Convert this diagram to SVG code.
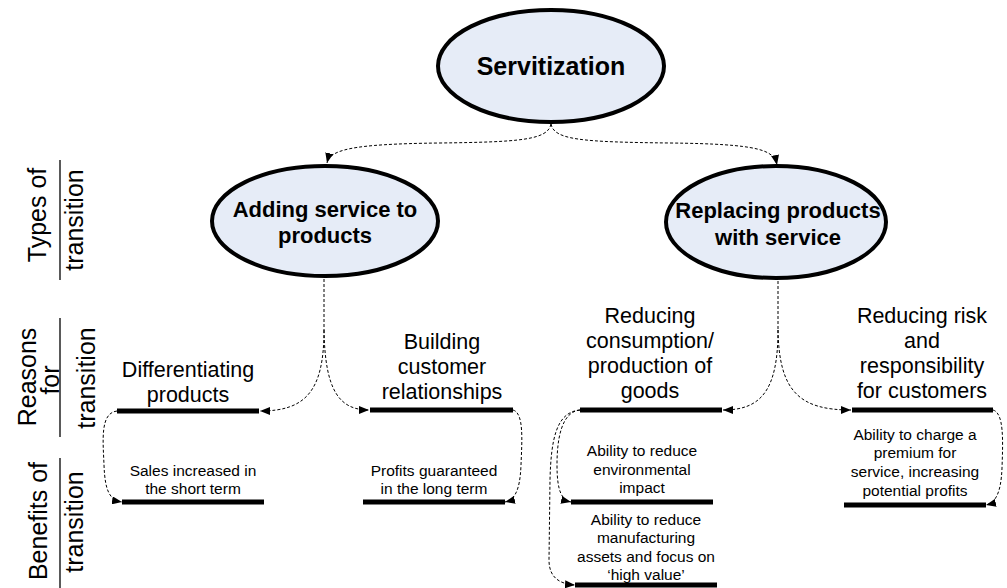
<svg xmlns="http://www.w3.org/2000/svg" width="1007" height="588" viewBox="0 0 1007 588">
<defs>
<marker id="ah" viewBox="0 0 10 8" refX="10" refY="4" markerWidth="10" markerHeight="8" markerUnits="userSpaceOnUse" orient="auto">
<path d="M0,0 L10,4 L0,8 Z" fill="#000"/>
</marker>
</defs>
<style>
.ell{fill:#E6ECF7;stroke:#000;stroke-width:4}
.bold{font-family:"Liberation Sans",Arial,sans-serif;font-weight:bold;fill:#000;text-anchor:middle}
.big{font-family:"Liberation Sans",Arial,sans-serif;font-size:21.5px;fill:#000;text-anchor:middle}
.small{font-family:"Liberation Sans",Arial,sans-serif;font-size:15.5px;fill:#000;text-anchor:middle}
.lab{font-family:"Liberation Sans",Arial,sans-serif;font-size:25px;fill:#000;text-anchor:middle}
.bar{stroke:#000;stroke-width:5}
.rule{stroke:#000;stroke-width:1.3}
.con{fill:none;stroke:#000;stroke-width:1;stroke-dasharray:3,2;marker-end:url(#ah)}
.conn{fill:none;stroke:#000;stroke-width:1;stroke-dasharray:3,2}
</style>
<rect width="1007" height="588" fill="#fff"/>

<g id="axis-labels">
<line class="rule" x1="60" y1="160" x2="60" y2="280"/>
<text class="lab" transform="translate(46,215) rotate(-90)">Types of</text>
<text class="lab" transform="translate(83,220) rotate(-90)">transition</text>
<line class="rule" x1="60" y1="318" x2="60" y2="437"/>
<text class="lab" transform="translate(36,377) rotate(-90)">Reasons</text>
<text class="lab" transform="translate(59,380) rotate(-90)">for</text>
<text class="lab" transform="translate(95,378) rotate(-90)">transition</text>
<line class="rule" x1="60" y1="458" x2="60" y2="588"/>
<text class="lab" transform="translate(47,521) rotate(-90)">Benefits of</text>
<text class="lab" transform="translate(83,522) rotate(-90)">transition</text>
</g>

<g id="connectors">
<path class="con" d="M551,124 C548,140 520,142 440,143 C350,144 330,150 327,163"/>
<path class="con" d="M551,124 C554,140 582,142 670,143 C760,144 774,150 777,165"/>
<path class="conn" d="M324,279 L324,330"/>
<path class="con" d="M324,330 C324,392 305,411 260,411"/>
<path class="con" d="M324,330 C325,392 340,410 369,410"/>
<path class="conn" d="M778,281 L778,330"/>
<path class="con" d="M778,330 C778,392 760,410 723,410"/>
<path class="con" d="M778,330 C779,392 800,410 851,410"/>
<path class="con" d="M117,411 C100,413 103,440 104,465 C105,492 110,500 122,502"/>
<path class="con" d="M513,410 C524,413 522,440 521,465 C520,492 514,500 505,502"/>
<path class="con" d="M580,410 C561,412 557,440 557,465 C557,492 562,500 571,502"/>
<path class="con" d="M580,410 C556,412 551,440 550,480 L549,560 C549,578 560,584 575,585"/>
<path class="con" d="M993,410 C1004,413 1003,440 1002,468 C1001,494 995,503 986,505"/>
</g>

<g id="servitization">
<ellipse class="ell" cx="551" cy="66" rx="113" ry="56"/>
<text class="bold" x="551" y="75" font-size="25px">Servitization</text>
</g>

<g id="adding">
<ellipse class="ell" cx="325" cy="221" rx="113" ry="55"/>
<text class="bold" x="325" y="217" font-size="22px">Adding service to</text>
<text class="bold" x="325" y="243" font-size="22px">products</text>
</g>

<g id="replacing">
<ellipse class="ell" cx="776" cy="222" rx="110" ry="56"/>
<text class="bold" x="778" y="218" font-size="22px">Replacing products</text>
<text class="bold" x="778" y="245" font-size="22px">with service</text>
</g>

<g id="differentiating">
<text class="big" x="188" y="377">Differentiating</text>
<text class="big" x="188" y="402">products</text>
<line class="bar" x1="117" y1="411" x2="259" y2="411"/>
</g>

<g id="building">
<text class="big" x="442" y="349">Building</text>
<text class="big" x="442" y="374">customer</text>
<text class="big" x="442" y="399">relationships</text>
<line class="bar" x1="370" y1="410" x2="513" y2="410"/>
</g>

<g id="reducing-consumption">
<text class="big" x="650" y="323">Reducing</text>
<text class="big" x="650" y="348">consumption/</text>
<text class="big" x="650" y="373">production of</text>
<text class="big" x="650" y="398">goods</text>
<line class="bar" x1="580" y1="410" x2="722" y2="410"/>
</g>

<g id="reducing-risk">
<text class="big" x="922" y="323">Reducing risk</text>
<text class="big" x="922" y="348">and</text>
<text class="big" x="922" y="373">responsibility</text>
<text class="big" x="922" y="398">for customers</text>
<line class="bar" x1="852" y1="410" x2="993" y2="410"/>
</g>

<g id="sales">
<text class="small" x="193" y="476">Sales increased in</text>
<text class="small" x="193" y="494">the short term</text>
<line class="bar" x1="122" y1="502" x2="264" y2="502"/>
</g>

<g id="profits">
<text class="small" x="434" y="476">Profits guaranteed</text>
<text class="small" x="434" y="494">in the long term</text>
<line class="bar" x1="363" y1="502" x2="505" y2="502"/>
</g>

<g id="environmental">
<text class="small" x="642" y="456">Ability to reduce</text>
<text class="small" x="642" y="475">environmental</text>
<text class="small" x="642" y="493">impact</text>
<line class="bar" x1="571" y1="502" x2="713" y2="502"/>
</g>

<g id="manufacturing">
<text class="small" x="646" y="525">Ability to reduce</text>
<text class="small" x="646" y="543">manufacturing</text>
<text class="small" x="646" y="562">assets and focus on</text>
<text class="small" x="646" y="580">‘high value’</text>
<line class="bar" x1="575" y1="585" x2="717" y2="585"/>
</g>

<g id="premium">
<text class="small" x="915" y="440">Ability to charge a</text>
<text class="small" x="915" y="458">premium for</text>
<text class="small" x="915" y="477">service, increasing</text>
<text class="small" x="915" y="496">potential profits</text>
<line class="bar" x1="844" y1="505" x2="986" y2="505"/>
</g>
</svg>
